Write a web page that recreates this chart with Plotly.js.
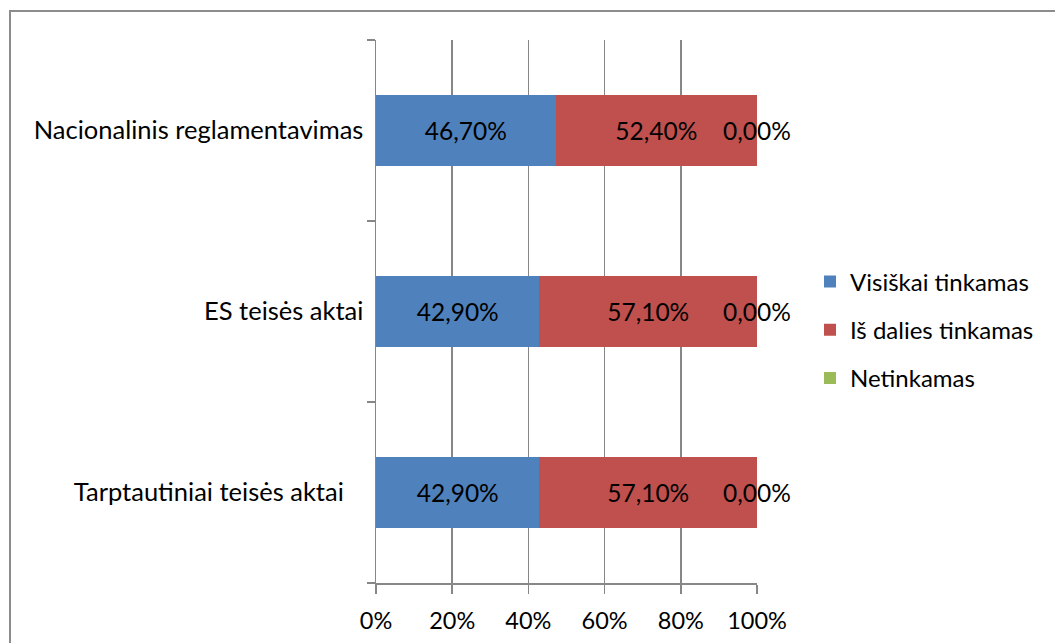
<!DOCTYPE html>
<html>
<head>
<meta charset="utf-8">
<script src="https://cdn.plot.ly/plotly-3.0.1.min.js"></script>
<style>
html,body{margin:0;padding:0;background:#fff;}
#wrap{position:relative;width:1055px;height:643px;overflow:hidden;}
#chart{position:absolute;left:0;top:0;width:1055px;height:643px;}
#frame{position:absolute;left:9px;top:10px;width:1100px;height:700px;border-left:2px solid #8c8c8c;border-top:2px solid #8c8c8c;pointer-events:none;}
</style>
</head>
<body>
<div id="wrap"><div id="chart"></div><div id="frame"></div></div>
<script>
const categories = ["Tarptautiniai teisės aktai\u00a0\u00a0\u00a0", "ES teisės aktai", "Nacionalinis reglamentavimas"];
const seriesNames = ["Visiškai tinkamas", "Iš dalies tinkamas", "Netinkamas"];
const visiskai = [42.9, 42.9, 46.7];
const isDalies = [57.1, 57.1, 52.4];
const netinkamas = [0.0, 0.0, 0.0];
const xTicks = [0, 20, 40, 60, 80, 100];

const colors = ["#4F81BD", "#C0504D", "#9BBB59"];
const FONT = "Lato, 'Open Sans', sans-serif";
const fmt = v => v.toFixed(2).replace('.', ',') + '%';
const NUM_SIZE = 24.5;
const TXT_SIZE = 25.5;

const series = [visiskai, isDalies, netinkamas];
const traces = series.map((vals, i) => ({
  type: 'bar',
  orientation: 'h',
  name: seriesNames[i],
  y: categories,
  x: vals,
  width: 0.39,
  marker: {color: colors[i]},
  text: vals.map(fmt),
  textposition: i < 2 ? 'inside' : 'none',
  insidetextanchor: 'middle',
  textfont: {family: FONT, size: NUM_SIZE, color: '#000'},
  constraintext: 'none',
  legendgroup: 'g' + i,
  hoverinfo: 'skip'
}));

// labels for the zero-width "Netinkamas" segments, placed at the normalized end of each stack
const totals = categories.map((c, k) => series.reduce((s, arr) => s + arr[k], 0));
const netEnd = categories.map((c, k) => (visiskai[k] + isDalies[k] + netinkamas[k]) / totals[k] * 100);
const annotations = categories.map((c, k) => ({
  x: netEnd[k], y: c, xref: 'x', yref: 'y',
  text: fmt(netinkamas[k]),
  showarrow: false,
  xanchor: 'center', yanchor: 'middle',
  font: {family: FONT, size: NUM_SIZE, color: '#000'}
}));

const layout = {
  width: 1055, height: 643,
  margin: {l: 376, r: 298, t: 40, b: 60, pad: 0, autoexpand: false},
  paper_bgcolor: '#fff', plot_bgcolor: '#fff',
  barmode: 'stack',
  barnorm: 'percent',
  showlegend: true,
  font: {family: FONT, size: TXT_SIZE, color: '#000'},
  annotations: annotations,
  xaxis: {
    range: [0, 100],
    tickvals: xTicks,
    ticktext: xTicks.map(t => t + '%'),
    showgrid: true, gridcolor: '#878787', gridwidth: 1.5,
    zeroline: false,
    showline: true, linecolor: '#878787', linewidth: 1.5,
    ticks: 'outside', ticklen: 9, tickcolor: '#878787', tickwidth: 1.5,
    ticklabelstandoff: 7,
    tickfont: {family: FONT, size: 23.5, color: '#000'},
    automargin: false,
    fixedrange: true
  },
  yaxis: {
    type: 'category',
    range: [-0.5, 2.5],
    tickson: 'boundaries',
    showgrid: false, zeroline: false,
    showline: true, linecolor: '#878787', linewidth: 1.5,
    ticks: 'outside', ticklen: 8, tickcolor: '#878787', tickwidth: 1.5,
    ticklabelstandoff: 6,
    tickfont: {family: FONT, size: TXT_SIZE, color: '#000'},
    automargin: false,
    fixedrange: true
  },
  legend: {
    xref: 'container', yref: 'container',
    x: 810 / 1055, xanchor: 'left',
    y: 1 - 330 / 643, yanchor: 'middle',
    traceorder: 'grouped',
    tracegroupgap: 14,
    font: {family: FONT, size: 24, color: '#000'},
    bgcolor: 'rgba(0,0,0,0)'
  }
};

Plotly.newPlot('chart', traces, layout, {displayModeBar: false, staticPlot: true});
</script>
</body>
</html>
